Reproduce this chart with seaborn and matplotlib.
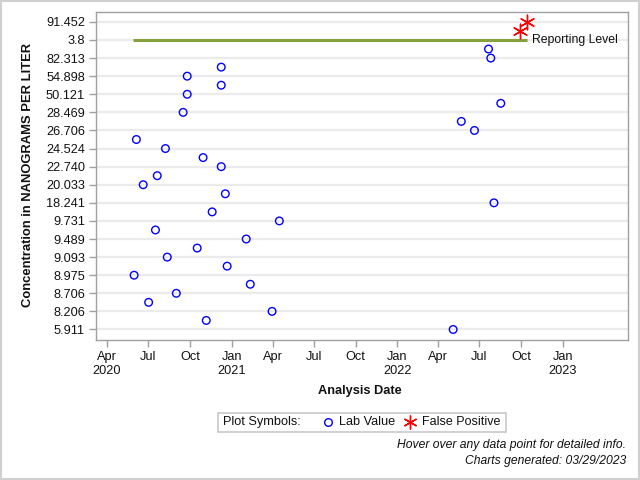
import numpy as np
import pandas as pd
import matplotlib
matplotlib.use("Agg")
import matplotlib.pyplot as plt
from matplotlib.lines import Line2D
from matplotlib.patches import Rectangle
import seaborn as sns

# ---------------- data ----------------
# ordinal concentration axis (bottom -> top), as drawn in the reference
categories = ["5.911", "7.362", "8.206", "8.512", "8.706", "8.851", "8.975", "9.040",
              "9.093", "9.310", "9.489", "9.612", "9.731", "12.530", "18.241", "19.120",
              "20.033", "21.410", "22.740", "23.610", "24.524", "25.620", "26.706", "27.610",
              "28.469", "39.300", "50.121", "52.480", "54.898", "68.600", "82.313", "85.020",
              "3.8", "87.140", "91.452"]

lab_dates = ["2022-05-04", "2020-11-06", "2021-03-31", "2020-07-02", "2020-09-01",
             "2021-02-11", "2020-05-31", "2020-12-22", "2020-08-12", "2020-10-17",
             "2021-02-02", "2020-07-17", "2021-04-16", "2020-11-19", "2022-08-02",
             "2020-12-18", "2020-06-20", "2020-07-21", "2020-12-09", "2020-10-30",
             "2020-08-08", "2020-06-05", "2022-06-20", "2022-05-22", "2020-09-16",
             "2022-08-17", "2020-09-25", "2020-12-09", "2020-09-25", "2020-12-09",
             "2022-07-26", "2022-07-21"]
lab_values = ["5.911", "7.362", "8.206", "8.512", "8.706", "8.851", "8.975", "9.040",
              "9.093", "9.310", "9.489", "9.612", "9.731", "12.530", "18.241", "19.120",
              "20.033", "21.410", "22.740", "23.610", "24.524", "25.620", "26.706", "27.610",
              "28.469", "39.300", "50.121", "52.480", "54.898", "68.600", "82.313", "85.020"]

fp_dates = ["2022-09-29", "2022-10-14"]
fp_values = ["87.140", "91.452"]

reporting_level = "3.8"
reporting_start = "2020-05-29"
reporting_end = "2022-10-14"

xtick_dates = ["2020-04-01", "2020-07-01", "2020-10-01", "2021-01-01", "2021-04-01",
               "2021-07-01", "2021-10-01", "2022-01-01", "2022-04-01", "2022-07-01",
               "2022-10-01", "2023-01-01"]
xtick_labels = ["Apr\n2020", "Jul", "Oct", "Jan\n2021", "Apr", "Jul", "Oct",
                "Jan\n2022", "Apr", "Jul", "Oct", "Jan\n2023"]

# ---------------- build frames ----------------
pos = {c: i for i, c in enumerate(categories)}
lab = pd.DataFrame({"date": pd.to_datetime(lab_dates), "value": lab_values})
lab["ypos"] = lab["value"].map(pos)
fp = pd.DataFrame({"date": pd.to_datetime(fp_dates), "value": fp_values})
fp["ypos"] = fp["value"].map(pos)

sns.set_theme(style="white")
plt.rcParams["font.family"] = ["Liberation Sans", "DejaVu Sans"]

fig = plt.figure(figsize=(6.4, 4.8), dpi=100)
ax = fig.add_axes([0.15, 0.2917, 0.831, 0.684])

# reporting level line
ax.hlines(pos[reporting_level], pd.Timestamp(reporting_start), pd.Timestamp(reporting_end),
          color="#86a03e", linewidth=2.2, zorder=2)
ax.text(pd.Timestamp(reporting_end) + pd.Timedelta(days=11), pos[reporting_level],
        "Reporting Level", ha="left", va="center", fontsize=8.8, color="#111111")

sns.scatterplot(data=lab, x="date", y="ypos", ax=ax, marker="o", s=30,
                facecolors="none", edgecolor="blue", linewidth=1.0, zorder=3, legend=False)
sns.scatterplot(data=fp, x="date", y="ypos", ax=ax, marker=(6, 2, 0), s=110,
                color="red", edgecolor="red", linewidth=1.0, zorder=3, legend=False)

# axes limits / ticks
ax.set_xlim(pd.Timestamp("2020-03-08"), pd.Timestamp("2023-05-24"))
ax.set_ylim(-1.16, 35.13)
ax.set_yticks(range(0, len(categories), 2))
ax.set_yticklabels(categories[::2])
ax.set_xticks(pd.to_datetime(xtick_dates))
ax.set_xticklabels(xtick_labels)
ax.set_xlabel("")
ax.set_ylabel("")

ax.yaxis.grid(True, color="#ebebeb", linewidth=1.6)
ax.xaxis.grid(False)
ax.set_axisbelow(True)
for s in ax.spines.values():
    s.set_color("#a0a0a0")
    s.set_linewidth(1.0)
ax.tick_params(axis="both", which="both", length=5, width=1, color="#a0a0a0",
               labelsize=9.2, labelcolor="#111111", direction="out")
ax.tick_params(axis="y", pad=3)
ax.tick_params(axis="x", pad=3)
ax.tick_params(left=True, bottom=True)

# labels
fig.text(0.043, 0.635, "Concentration in NANOGRAMS PER LITER", rotation=90,
         ha="center", va="center", fontsize=9.4, fontweight="bold", color="#111111")
fig.text(0.5625, 0.185, "Analysis Date", ha="center", va="center",
         fontsize=9.2, fontweight="bold", color="#111111")

# legend box
fig.add_artist(Rectangle((0.3406, 0.1), 0.45, 0.0396, transform=fig.transFigure,
                         fill=False, edgecolor="#c8c8c8", linewidth=1.2))
ly = 0.1198
fig.text(0.348, ly, "Plot Symbols:", ha="left", va="center", fontsize=9.2, color="#111111")
fig.add_artist(Line2D([0.5125], [ly], transform=fig.transFigure, marker="o", markersize=5.5,
                      markerfacecolor="none", markeredgecolor="blue", markeredgewidth=1.0,
                      linestyle="none"))
fig.text(0.529, ly, "Lab Value", ha="left", va="center", fontsize=9.2, color="#111111")
fig.add_artist(Line2D([0.6406], [ly], transform=fig.transFigure, marker=(6, 2, 0),
                      markersize=10, markeredgecolor="red", markeredgewidth=1.0,
                      linestyle="none"))
fig.text(0.66, ly, "False Positive", ha="left", va="center", fontsize=9.0, color="#111111")

# footnotes
fig.text(0.978, 0.073, "Hover over any data point for detailed info.", ha="right",
         va="center", fontsize=8.7, style="italic", color="#111111")
fig.text(0.978, 0.04, "Charts generated: 03/29/2023", ha="right",
         va="center", fontsize=8.7, style="italic", color="#111111")

# outer border
fig.add_artist(Rectangle((0.0015, 0.002), 0.997, 0.996, transform=fig.transFigure,
                         fill=False, edgecolor="#d0d0d0", linewidth=1.5))

fig.savefig("out.png", dpi=100)
